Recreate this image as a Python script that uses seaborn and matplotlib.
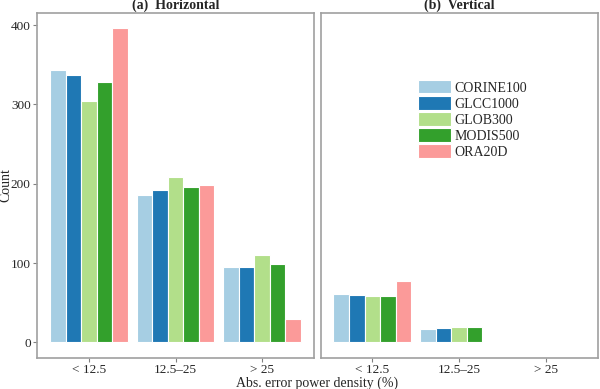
import pandas as pd
import matplotlib
matplotlib.use("Agg")
import matplotlib.pyplot as plt
import seaborn as sns

categories = ["< 12.5", "12.5\u201325", "> 25"]
products = ["CORINE100", "GLCC1000", "GLOB300", "MODIS500", "ORA20D"]
horizontal = {
    "CORINE100": [343, 186, 95],
    "GLCC1000": [337, 192, 95],
    "GLOB300": [305, 209, 110],
    "MODIS500": [329, 196, 99],
    "ORA20D": [396, 198, 30],
}
vertical = {
    "CORINE100": [61, 17, 0],
    "GLCC1000": [60, 18, 0],
    "GLOB300": [58, 20, 0],
    "MODIS500": [58, 20, 0],
    "ORA20D": [77, 1, 0],
}
colors = ["#a6cee3", "#1f78b4", "#b2df8a", "#33a02c", "#fb9a99"]


def to_frame(d):
    rows = []
    for p in products:
        for c, v in zip(categories, d[p]):
            rows.append({"cat": c, "product": p, "count": v})
    return pd.DataFrame(rows)


sns.set_style("white")
plt.rcParams["font.family"] = ["Liberation Serif", "DejaVu Serif"]

fig = plt.figure(figsize=(6, 3.89), dpi=100)
W, H = 600, 389
ax1 = fig.add_axes([37 / W, 1 - 357.5 / H, (314 - 37) / W, (357.5 - 12.5) / H])
ax2 = fig.add_axes([320.5 / W, 1 - 357.5 / H, (597.5 - 320.5) / W, (357.5 - 12.5) / H])

for ax, d, title in [(ax1, horizontal, "(a)  Horizontal"), (ax2, vertical, "(b)  Vertical")]:
    sns.barplot(data=to_frame(d), x="cat", y="count", hue="product",
                palette=colors, order=categories, hue_order=products,
                width=0.9, saturation=1, edgecolor="white", linewidth=0.8,
                ax=ax, legend=(ax is ax2))
    ax.set_ylim(-19, 416)
    ax.set_xlim(-0.6, 2.6)
    ax.set_title(title, fontsize=10, fontweight="bold", pad=2)
    ax.set_xlabel("")
    ax.set_ylabel("")
    for s in ax.spines.values():
        s.set_color("#a0a0a0")
        s.set_linewidth(1.2)
    ax.tick_params(axis="both", which="both", direction="out", length=3,
                   color="#808080", labelsize=9.5, pad=1.5, left=True, bottom=True)
    ax.set_yticks([0, 100, 200, 300, 400])

ax2.set_yticklabels([])
ax2.tick_params(axis="y", left=False)

leg = ax2.legend(loc="upper left", bbox_to_anchor=(0.352, 0.804), frameon=False,
                 fontsize=10, handlelength=2.4, handleheight=1.1,
                 labelspacing=0.12, handletextpad=0.25, borderpad=0,
                 borderaxespad=0)

fig.text(317 / W, 1 - 383 / H, "Abs. error power density (%)", ha="center",
         va="center", fontsize=10)
fig.text(6 / W, 1 - 185 / H, "Count", rotation=90, ha="center", va="center",
         fontsize=10)

fig.savefig("out.png", dpi=100)
